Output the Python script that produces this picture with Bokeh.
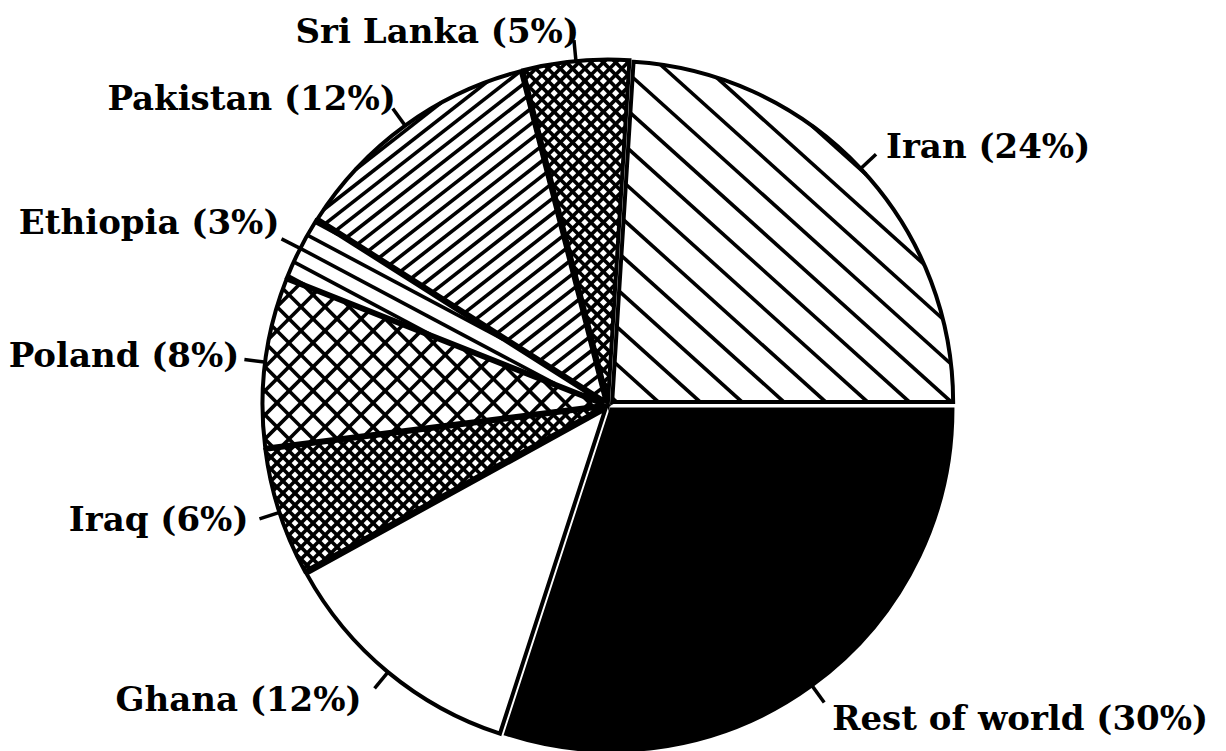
import numpy as np
from bokeh.plotting import figure
from bokeh.models import Range1d, ColumnDataSource
from bokeh.core.properties import value
from bokeh.embed import file_html
from bokeh.resources import INLINE

# ---- data ----
countries = ["Iran", "Sri Lanka", "Pakistan", "Ethiopia", "Poland", "Iraq", "Ghana", "Rest of world"]
shares = [24, 5, 12, 3, 8, 6, 12, 30]

# ---- styles ----
fills = ["white", "white", "white", "white", "white", "white", "white", "black"]
# hatch: list of (line angle in degrees, perpendicular spacing in px)
hatch_specs = [
    [(-42, 28)],                 # Iran  "\"
    [(45, 8.7), (-45, 8.7)],     # Sri Lanka dense cross
    [(38, 12)],                  # Pakistan "/"
    [(-28, 15)],                 # Ethiopia "\"
    [(45, 17), (-45, 17)],       # Poland open cross
    [(45, 8.5), (-45, 8.5)],     # Iraq dense cross
    [],                          # Ghana plain
    [],                          # Rest of world solid
]
# label placement relative to leader end: (align, dx, dy) in px, dy downward
label_place = [("left", 10, -8), ("right", 5, -9), ("right", 3, -11), ("right", -2, -17),
               ("right", -5, -5), ("right", -11, 0), ("right", -13, 11), ("left", 8, 16)]

W, H = 1226, 751
cx, cy = 608, H - 405
R = 341
EXPLODE = 5
LEAD = 21

total = float(sum(shares))
fr = np.array(shares) / total
ends = np.cumsum(fr) * 2 * np.pi
starts = np.concatenate([[0], ends[:-1]])
mids = (starts + ends) / 2

xs = cx + EXPLODE * np.cos(mids)
ys = cy + EXPLODE * np.sin(mids)

src = ColumnDataSource(dict(x=xs, y=ys, start=starts, end=ends, fill=fills))

p = figure(width=W, height=H, output_backend="svg", toolbar_location=None,
           x_range=Range1d(0, W), y_range=Range1d(0, H), min_border=0)
p.axis.visible = False
p.grid.visible = False
p.outline_line_color = None
p.background_fill_color = "white"

# fills
p.wedge(x="x", y="y", radius=R, start_angle="start", end_angle="end",
        fill_color="fill", line_color=None, source=src)


def cross(a, b):
    return a[0] * b[1] - a[1] * b[0]


def clip(p0, d, c, r, a0, a1):
    w = p0 - c
    b = w @ d
    cc = w @ w - r * r
    disc = b * b - cc
    if disc <= 0:
        return None
    t0, t1 = -b - np.sqrt(disc), -b + np.sqrt(disc)
    for u, sg in ((np.array([np.cos(a0), np.sin(a0)]), 1.0),
                  (np.array([np.cos(a1), np.sin(a1)]), -1.0)):
        A = sg * cross(u, w)
        B = sg * cross(u, d)
        if abs(B) < 1e-12:
            if A < 0:
                return None
            continue
        tt = -A / B
        if B > 0:
            t0 = max(t0, tt)
        else:
            t1 = min(t1, tt)
    if t1 <= t0:
        return None
    return p0 + t0 * d, p0 + t1 * d


hx0, hy0, hx1, hy1 = [], [], [], []
for i, specs in enumerate(hatch_specs):
    c = np.array([xs[i], ys[i]])
    for ang, sp in specs:
        th = np.radians(ang)
        d = np.array([np.cos(th), np.sin(th)])
        n = np.array([-np.sin(th), np.cos(th)])
        nc = n @ c
        for k in range(int(np.floor((nc - R) / sp)) - 1, int(np.ceil((nc + R) / sp)) + 2):
            seg = clip(n * (k * sp), d, c, R, starts[i], ends[i])
            if seg is not None:
                hx0.append(seg[0][0]); hy0.append(seg[0][1])
                hx1.append(seg[1][0]); hy1.append(seg[1][1])
p.segment(x0=hx0, y0=hy0, x1=hx1, y1=hy1, line_color="black", line_width=3.6)

# outlines
p.wedge(x="x", y="y", radius=R, start_angle="start", end_angle="end",
        fill_color=None, line_color="black", line_width=4, line_join="miter", source=src)

# leader lines
r0 = R + EXPLODE - 1
r1 = R + EXPLODE + LEAD
lx1 = cx + r1 * np.cos(mids)
ly1 = cy + r1 * np.sin(mids)
p.segment(x0=cx + r0 * np.cos(mids), y0=cy + r0 * np.sin(mids), x1=lx1, y1=ly1,
          line_color="black", line_width=3.5)

labels = [f"{c} ({s}%)" for c, s in zip(countries, shares)]
aligns = [lp[0] for lp in label_place]
tx = lx1 + np.array([lp[1] for lp in label_place])
ty = ly1 - np.array([lp[2] for lp in label_place])
lsrc = ColumnDataSource(dict(x=tx, y=ty, t=labels, a=aligns))
p.text(x="x", y="y", text="t", text_align="a", text_baseline="middle", source=lsrc,
       text_font=value("DejaVu Serif"), text_font_style="bold",
       text_font_size="34px", text_color="black")

open("out.html", "w").write(file_html(p, INLINE))
